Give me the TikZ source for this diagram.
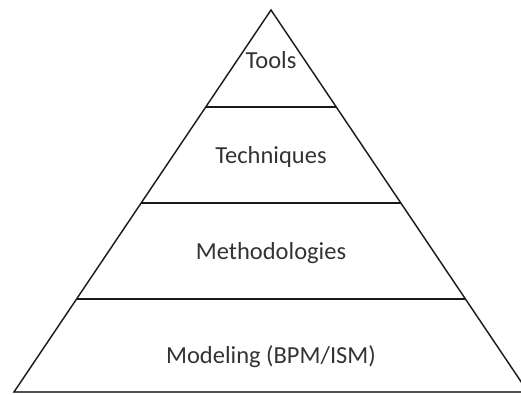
\documentclass[tikz,border=0pt]{standalone}
\usepackage{fontspec}
\setmainfont{Carlito}
\usetikzlibrary{calc}
\tikzset{
    layer/.style={
                anchor=base,
                text=black!80,
                inner sep=0pt,
                font=\fontsize{24.5}{28}\selectfont
            },
    edge/.style={
                draw=black!90,
                line width=1.3pt,
                line join=miter
            },
    shade/.style={
                draw=black!25,
                line width=1.6pt,
                shift={(1.2,1.6)}
            },
}
\begin{document}
\begin{tikzpicture}[x=1pt,y=-1pt]
  \useasboundingbox (0,0) rectangle (521,394);
  % Corners
  \coordinate (apex) at (271,10);
  \coordinate (bl) at (14,392);
  \coordinate (br) at (528,392);
  % Shadow and outline
  \draw[shade] (apex) -- (bl) -- (br) -- cycle;
  \draw[edge] (apex) -- (bl) -- (br) -- cycle;
  % Dividers
  \foreach \h/\name in {107/top,203/mid,299/low}{
      \pgfmathsetmacro\t{(\h-10)/382}
      \draw[shade] ($(apex)!\t!(bl)$) -- ($(apex)!\t!(br)$);
      \draw[edge] ($(apex)!\t!(bl)$) coordinate (\name L) -- ($(apex)!\t!(br)$) coordinate (\name R);
    }
  % Levels
  \node[layer] (tools) at (271,68) {Tools};
  \node[layer] (techniques) at (271,163) {Techniques};
  \node[layer] (methods) at (271,259) {Methodologies};
  \node[layer] (modeling) at (271,363) {Modeling (BPM/ISM)};
\end{tikzpicture}
\end{document}
